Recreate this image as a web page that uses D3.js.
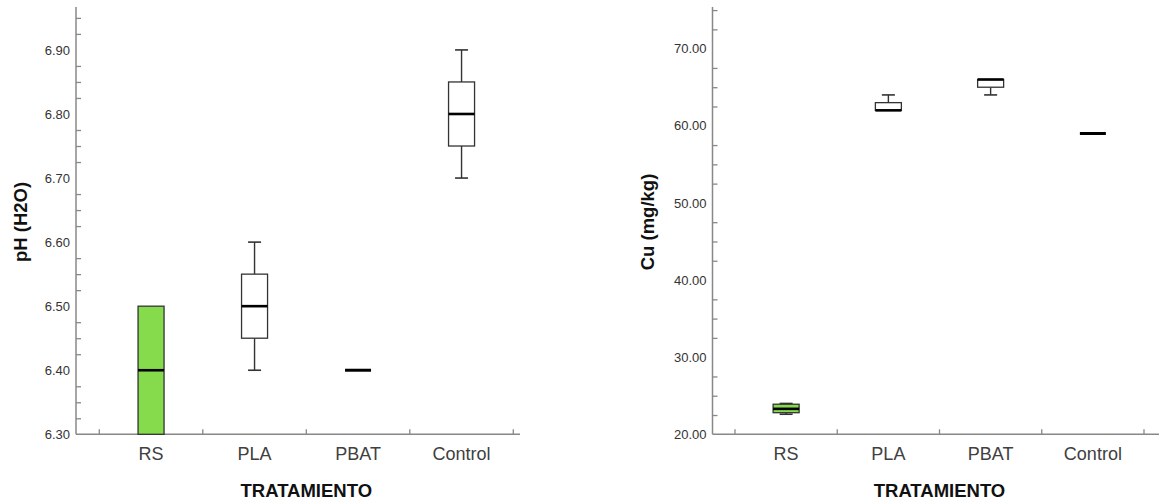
<!DOCTYPE html>
<html>
<head>
<meta charset="utf-8">
<script src="https://cdn.jsdelivr.net/npm/d3@7"></script>
<style>
  body { margin: 0; background: #fff; }
  svg { display: block; font-family: "Liberation Sans", Arial, sans-serif; }
</style>
</head>
<body>
<svg id="chart" width="1159" height="504"></svg>
<script>
// box plots of pH and Cu per treatment

let categories = ['RS', 'PLA', 'PBAT', 'Control']

// pH (H2O)
let phMin = [6.30, 6.40, 6.40, 6.70]
let phQ1  = [6.30, 6.45, 6.40, 6.75]
let phMed = [6.40, 6.50, 6.40, 6.80]
let phQ3  = [6.50, 6.55, 6.40, 6.85]
let phMax = [6.50, 6.60, 6.40, 6.90]
let phTicks = [6.30, 6.40, 6.50, 6.60, 6.70, 6.80, 6.90]

// Cu (mg/kg)
let cuMin = [22.6, 62.0, 64.0, 59.0]
let cuQ1  = [22.8, 62.0, 65.0, 59.0]
let cuMed = [23.3, 62.0, 66.0, 59.0]
let cuQ3  = [23.9, 63.0, 66.0, 59.0]
let cuMax = [24.0, 64.0, 66.0, 59.0]
let cuTicks = [20, 30, 40, 50, 60, 70]

let boxFill = ['#85db4c', '#ffffff', '#ffffff', '#ffffff']

let svg = d3.select('#chart')

let drawPanel = (opts) => {
    let g = svg.append('g')
    let x = d3.scaleBand().domain(categories).range(opts.xRange)
    let y = d3.scaleLinear().domain(opts.yDomain).range([434.3, 7])
    let axisX = opts.axisX

    //y labels (no tick marks at the labelled values)
    let yAxis = g.append('g')
        .attr('transform', `translate(${axisX},0)`)
        .call(d3.axisLeft(y).tickValues(opts.ticks).tickFormat(d3.format('.2f')).tickSize(0).tickPadding(6))
    yAxis.select('.domain').remove()
    yAxis.selectAll('text')
        .style('font-size', '13px')
        .style('font-family', '"Liberation Sans", Arial, sans-serif')
        .attr('fill', '#333')

    // minor ticks point inwards
    let minor = d3.range(1, Math.floor((opts.yDomain[1] - opts.yDomain[0]) / opts.minorStep + 1e-6) + 1)
        .filter(i => i % 4 != 0)
        .map(i => opts.yDomain[0] + i * opts.minorStep)
    let minorAxis = g.append('g')
        .attr('transform', `translate(${axisX},0)`)
        .call(d3.axisRight(y).tickValues(minor).tickSize(5).tickFormat(''))
    minorAxis.select('.domain').remove()
    minorAxis.selectAll('line').attr('stroke', '#888').attr('stroke-width', 1.3)

    g.append('line')
        .attr('x1', axisX).attr('x2', axisX)
        .attr('y1', y(opts.yDomain[1])).attr('y2', y(opts.yDomain[0]))
        .attr('stroke', '#888').attr('stroke-width', 1.5)

    // x axis with ticks on the band edges
    let edges = categories.map(c => x(c)).concat([x.range()[1]])
    g.selectAll('.xedge')
        .data(edges)
        .enter()
        .append('line')
        .attr('x1', d => d).attr('x2', d => d)
        .attr('y1', y(opts.yDomain[0])).attr('y2', y(opts.yDomain[0]) - 5)
        .attr('stroke', '#888').attr('stroke-width', 1.3)
    g.append('line')
        .attr('x1', axisX).attr('x2', opts.xEnd)
        .attr('y1', y(opts.yDomain[0])).attr('y2', y(opts.yDomain[0]))
        .attr('stroke', '#888').attr('stroke-width', 1.5)

    g.selectAll('.cat')
        .data(categories)
        .enter()
        .append('text')
        .attr('x', d => x(d) + x.bandwidth() / 2)
        .attr('y', 459.5)
        .attr('text-anchor', 'middle')
        .style('font-size', '18px')
        .attr('fill', '#404040')
        .text(d => d)

    g.append('text')
        .attr('x', (x.range()[0] + x.range()[1]) / 2)
        .attr('y', 497)
        .attr('text-anchor', 'middle')
        .style('font-size', '18.5px')
        .style('font-weight', 'bold')
        .attr('fill', '#111')
        .text('TRATAMIENTO')

    g.append('text')
        .attr('transform', `translate(${opts.labelX},222) rotate(-90)`)
        .attr('text-anchor', 'middle')
        .style('font-size', '18.5px')
        .style('font-weight', 'bold')
        .attr('fill', '#111')
        .text(opts.label)

    // boxes
    let boxW = 26
    let capW = 13
    let rows = categories.map((c, i) => ({
        cat: c, min: opts.min[i], q1: opts.q1[i], med: opts.med[i], q3: opts.q3[i], max: opts.max[i], fill: boxFill[i]
    }))
    let box = g.selectAll('.box')
        .data(rows)
        .enter()
        .append('g')
        .attr('transform', d => `translate(${x(d.cat) + x.bandwidth() / 2},0)`)

    box.filter(d => d.max > d.q3).append('line')
        .attr('y1', d => y(d.q3)).attr('y2', d => y(d.max))
        .attr('stroke', '#333').attr('stroke-width', 1.4)
    box.filter(d => d.min < d.q1).append('line')
        .attr('y1', d => y(d.q1)).attr('y2', d => y(d.min))
        .attr('stroke', '#333').attr('stroke-width', 1.4)
    box.filter(d => d.max > d.q3).append('line')
        .attr('x1', -capW / 2).attr('x2', capW / 2)
        .attr('y1', d => y(d.max)).attr('y2', d => y(d.max))
        .attr('stroke', '#333').attr('stroke-width', 1.6)
    box.filter(d => d.min < d.q1).append('line')
        .attr('x1', -capW / 2).attr('x2', capW / 2)
        .attr('y1', d => y(d.min)).attr('y2', d => y(d.min))
        .attr('stroke', '#333').attr('stroke-width', 1.6)

    box.filter(d => d.q3 > d.q1).append('rect')
        .attr('x', -boxW / 2)
        .attr('width', boxW)
        .attr('y', d => y(d.q3))
        .attr('height', d => y(d.q1) - y(d.q3))
        .attr('fill', d => d.fill)
        .attr('stroke', '#333')
        .attr('stroke-width', 1.3)

    box.append('line')
        .attr('x1', -boxW / 2).attr('x2', boxW / 2)
        .attr('y1', d => y(d.med)).attr('y2', d => y(d.med))
        .attr('stroke', '#000')
        .attr('stroke-width', d => d.q3 > d.q1 ? 2.6 : 3)
}

drawPanel({
    xRange: [99.3, 513.3], xEnd: 520, axisX: 76,
    yDomain: [6.30, 6.967], ticks: phTicks, minorStep: 0.025,
    label: 'pH (H2O)', labelX: 27,
    min: phMin, q1: phQ1, med: phMed, q3: phQ3, max: phMax
})

drawPanel({
    xRange: [735, 1144], xEnd: 1159, axisX: 712.5,
    yDomain: [20, 75.4], ticks: cuTicks, minorStep: 2.5,
    label: 'Cu (mg/kg)', labelX: 654,
    min: cuMin, q1: cuQ1, med: cuMed, q3: cuQ3, max: cuMax
})
</script>
</body>
</html>
